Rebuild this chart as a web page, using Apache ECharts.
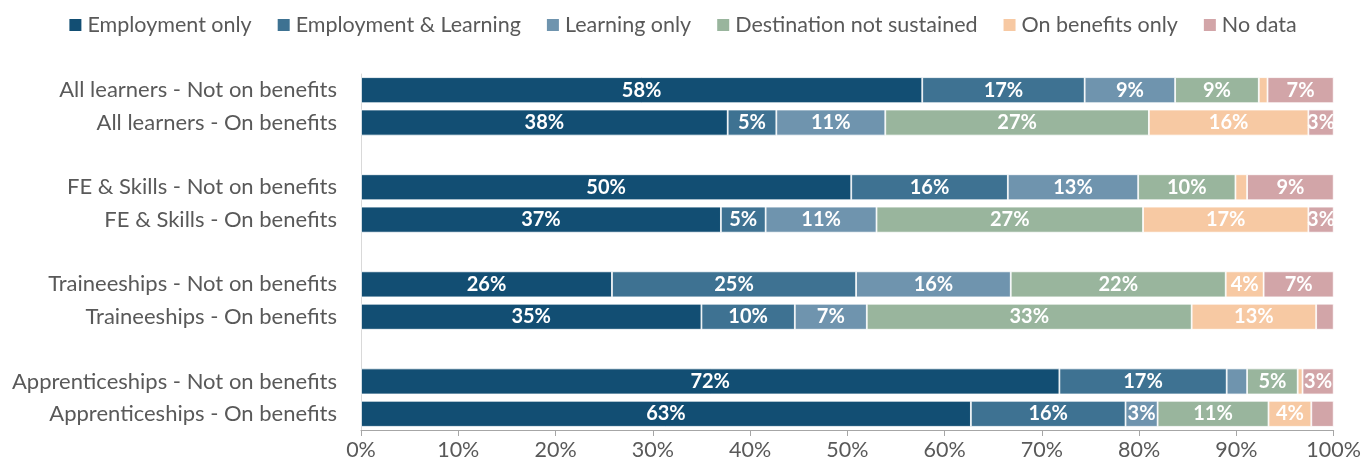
<!DOCTYPE html>
<html>
<head>
<meta charset="utf-8">
<script src="https://cdn.jsdelivr.net/npm/echarts@6/dist/echarts.min.js"></script>
<style>
  html, body { margin: 0; padding: 0; background: #fff; }
  #chart { width: 1364px; height: 468px; }
</style>
</head>
<body>
<div id="chart"></div>
<script>
// categories, blank strings are the gaps between the groups
var categories = [
  'All learners - Not on benefits',
  'All learners - On benefits',
  ' ',
  'FE & Skills - Not on benefits',
  'FE & Skills - On benefits',
  '  ',
  'Traineeships - Not on benefits',
  'Traineeships - On benefits',
  '   ',
  'Apprenticeships - Not on benefits',
  'Apprenticeships - On benefits'
];
var seriesNames = ['Employment only', 'Employment & Learning', 'Learning only', 'Destination not sustained', 'On benefits only', 'No data'];
var employmentOnly = [57.7, 37.7, null, 50.4, 37.0, null, 25.8, 35.0, null, 71.8, 62.7];
var employmentLearning = [16.7, 5.0, null, 16.1, 4.6, null, 25.1, 9.6, null, 17.2, 15.9];
var learningOnly = [9.3, 11.2, null, 13.4, 11.4, null, 15.9, 7.4, null, 2.1, 3.3];
var notSustained = [8.6, 27.1, null, 10.0, 27.4, null, 22.1, 33.4, null, 5.2, 11.4];
var onBenefitsOnly = [0.9, 16.4, null, 1.2, 17.0, null, 3.9, 12.8, null, 0.5, 4.4];
var noData = [6.8, 2.6, null, 8.9, 2.6, null, 7.2, 1.8, null, 3.2, 2.3];
var xTicks = [0, 10, 20, 30, 40, 50, 60, 70, 80, 90, 100];

var colors = ['#124e73', '#3e7292', '#6f94ae', '#99b59d', '#f7c9a3', '#d2a5a8'];
var allData = [employmentOnly, employmentLearning, learningOnly, notSustained, onBenefitsOnly, noData];
var font = 'Lato';

var series = seriesNames.map(function (name, i) {
  return {
    name: name,
    type: 'bar',
    stack: 'total',
    barWidth: 26,
    data: allData[i],
    itemStyle: { color: colors[i], borderColor: '#fff', borderWidth: 0.8 },
    label: {
      show: true,
      position: 'inside',
      color: '#fff',
      fontFamily: font,
      fontWeight: 'bold',
      fontSize: 20,
      formatter: function (p) {
        if (p.value == null || p.value < 2.5) return '';
        return Math.round(p.value) + '%';
      }
    }
  };
});

var chart = echarts.init(document.getElementById('chart'));
chart.setOption({
  animation: false,
  color: colors,
  textStyle: { fontFamily: font },
  legend: {
    top: 9,
    left: 'center',
    icon: 'rect',
    itemWidth: 14,
    itemHeight: 14,
    itemGap: 24,
    textStyle: { fontFamily: font, fontSize: 21.5, color: '#595959' },
    data: seriesNames
  },
  grid: { left: 361, right: 30, top: 74, bottom: 38 },
  xAxis: {
    type: 'value',
    min: 0,
    max: 100,
    interval: 10,
    splitLine: { show: false },
    axisLine: { show: true, lineStyle: { color: '#a6a6a6' } },
    axisTick: { show: true, length: 6, lineStyle: { color: '#a6a6a6' } },
    axisLabel: {
      fontFamily: font, fontSize: 21.5, color: '#595959', margin: 9,
      formatter: function (v) { return xTicks.indexOf(v) >= 0 ? v + '%' : ''; }
    }
  },
  yAxis: {
    type: 'category',
    inverse: true,
    data: categories,
    axisLine: { show: true, lineStyle: { color: '#d9d9d9' } },
    axisTick: { show: false },
    axisLabel: { fontFamily: font, fontSize: 22, color: '#595959', margin: 24 }
  },
  series: series
});
</script>
</body>
</html>
